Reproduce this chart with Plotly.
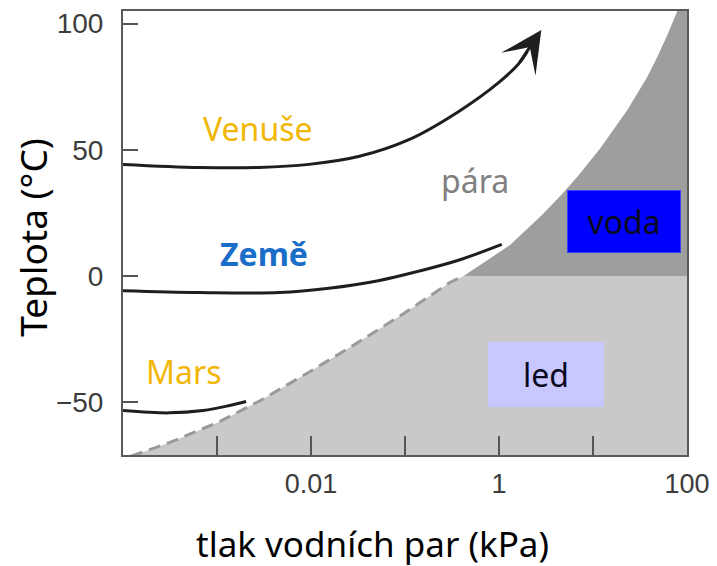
import numpy as np
import plotly.graph_objects as go

# ---- data (pressure in kPa, temperature in °C) ----
sub_p = [1.22e-4, 3.16e-4, 1.08e-3, 2.86e-3, 9.0e-3, 2.80e-2, 9.53e-2, 0.30, 0.42]
sub_T = [-71.5, -66.0, -57.7, -49.5, -38.7, -27.6, -15.1, -2.6, 0.0]

vap_p = [0.42, 1.31, 2.94, 4.80, 6.92, 11.9, 23.0, 37.5, 48.0, 62.1, 80.2]
vap_T = [0.0, 12.2, 24.5, 32.9, 39.6, 50.5, 65.6, 78.6, 86.6, 95.7, 105.6]

venus_p = [1.0e-4, 6.5e-4, 2.8e-3, 9.5e-3, 3.2e-2, 0.11, 0.37, 0.99, 1.62, 2.0]
venus_T = [44.2, 43.0, 43.0, 44.2, 47.3, 54.0, 65.1, 76.6, 84.1, 89.0]
venus_tip_p = 2.82
venus_tip_T = 97.5

earth_p = [1.0e-4, 6.5e-4, 4.6e-3, 1.55e-2, 5.2e-2, 0.141, 0.37, 1.07]
earth_T = [-5.9, -6.6, -6.6, -4.9, -1.9, 1.9, 6.2, 12.5]

mars_p = [1.0e-4, 3.1e-4, 7.1e-4, 1.36e-3, 2.04e-3]
mars_T = [-53.4, -54.3, -53.4, -51.4, -49.8]

x_tickvals = [1e-3, 1e-2, 1e-1, 1, 10, 100]
x_ticktext = ["", "0.01", "", "1", "", "100"]
y_tickvals = [-50, 0, 50, 100]
y_ticktext = ["\u221250", "0", "50", "100"]

labels = [  # text, p (kPa), T (°C), colour, bold
    ("Venuše", 2.7e-3, 58.5, "#f2b705", False),
    ("Země", 3.2e-3, 9.0, "#1a6ec8", True),
    ("Mars", 4.5e-4, -38.0, "#f2b705", False),
    ("pára", 0.555, 38.0, "#808080", False),
]
boxes = [  # text, p, T, bg, border, w, h
    ("voda", 21.2, 21.6, "#0000ff", "#3c3cff", 110, 59),
    ("led", 3.18, -39.0, "#c8c8ff", "#c8c8ff", 112, 61),
]

XR = [-4.0, 2.0]
YR = [-71, 105]
FAR_P = 1e3
FAR_LOW = -90
FAR_HIGH = 130

LABEL_FONT = "Noto Sans"

fig = go.Figure()

# ice region
fig.add_trace(go.Scatter(
    x=sub_p + [FAR_P, FAR_P, sub_p[0]],
    y=sub_T + [0, FAR_LOW, FAR_LOW],
    fill="toself", fillcolor="#c9c9c9", mode="none", hoverinfo="skip"))
# water region
fig.add_trace(go.Scatter(
    x=vap_p + [vap_p[-1], FAR_P, FAR_P],
    y=vap_T + [FAR_HIGH, FAR_HIGH, 0],
    fill="toself", fillcolor="#9e9e9e", mode="none", hoverinfo="skip"))
# sublimation boundary dashed
fig.add_trace(go.Scatter(
    x=sub_p, y=sub_T, mode="lines",
    line=dict(color="#9a9a9a", width=3, dash="12px,7px")))

for px, py in [(venus_p, venus_T), (earth_p, earth_T), (mars_p, mars_T)]:
    fig.add_trace(go.Scatter(x=px, y=py, mode="lines",
                             line=dict(color="#1e1e1e", width=3, shape="spline")))

annotations = []
annotations.append(dict(
    x=np.log10(venus_tip_p), y=venus_tip_T,
    ax=np.log10(venus_p[-2]), ay=venus_T[-2],
    xref="x", yref="y", axref="x", ayref="y",
    showarrow=True, arrowhead=3, arrowsize=2.3, arrowwidth=3,
    arrowcolor="#1e1e1e", text="", standoff=0))

for t, p, T, c, b in labels:
    annotations.append(dict(
        x=np.log10(p), y=T, xref="x", yref="y", showarrow=False,
        text=f"<b>{t}</b>" if b else t,
        font=dict(family=LABEL_FONT, size=32, color=c)))

for t, p, T, bg, bc, w, h in boxes:
    annotations.append(dict(
        x=np.log10(p), y=T, xref="x", yref="y", showarrow=False,
        text=t, bgcolor=bg, bordercolor=bc, borderwidth=1,
        width=w, height=h, valign="middle", align="center",
        font=dict(family=LABEL_FONT, size=32, color="#0a0a1e")))

annotations.append(dict(
    x=0.4415, y=-0.2, xref="paper", yref="paper", showarrow=False,
    text="tlak vodních par (kPa)", xanchor="center", yanchor="middle",
    font=dict(family=LABEL_FONT, size=35, color="#000000")))
annotations.append(dict(
    x=-0.16, y=0.491, xref="paper", yref="paper", showarrow=False,
    text="Teplota (°C)", textangle=-90, xanchor="center", yanchor="middle",
    font=dict(family=LABEL_FONT, size=37, color="#000000")))

fig.update_layout(
    width=709, height=558,
    margin=dict(l=115, r=30, t=3, b=111, autoexpand=False),
    paper_bgcolor="white", plot_bgcolor="white",
    showlegend=False,
    annotations=annotations,
    xaxis=dict(type="log", range=XR, tickvals=x_tickvals, ticktext=x_ticktext,
               ticks="inside", ticklen=19, tickwidth=2, tickcolor="#555555",
               showline=True, linecolor="#5a5a5a", linewidth=2, mirror=True,
               showgrid=False, zeroline=False, ticklabelstandoff=4,
               automargin=False,
               tickfont=dict(family="Liberation Sans", size=27, color="#3c3c3c")),
    yaxis=dict(range=YR, tickvals=y_tickvals, ticktext=y_ticktext,
               ticks="inside", ticklen=15, tickwidth=2, tickcolor="#555555",
               showline=True, linecolor="#5a5a5a", linewidth=2, mirror=True,
               showgrid=False, zeroline=False, ticklabelstandoff=12,
               automargin=False,
               tickfont=dict(family="Liberation Sans", size=28, color="#3c3c3c")),
)

fig.write_html("out.html")
